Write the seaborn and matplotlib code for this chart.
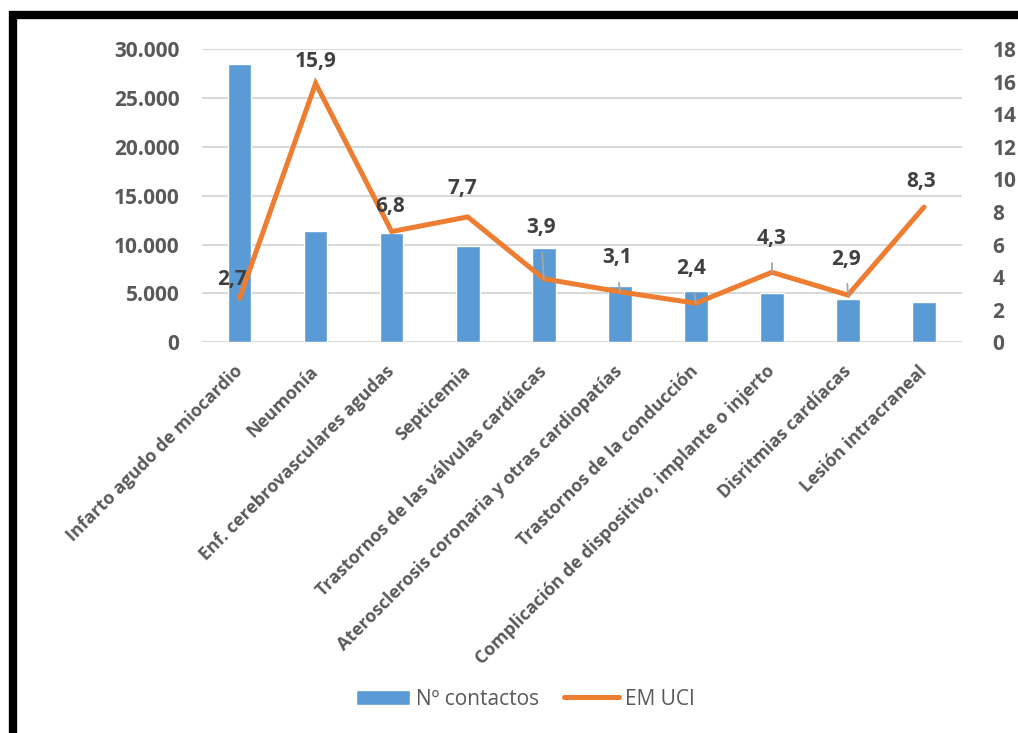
import numpy as np
import matplotlib
matplotlib.use("Agg")
import matplotlib.pyplot as plt
from matplotlib.patches import Rectangle
import seaborn as sns

# data
categorias = ["Infarto agudo de miocardio", "Neumonía", "Enf. cerebrovasculares agudas",
              "Septicemia", "Trastornos de las válvulas cardíacas",
              "Aterosclerosis coronaria y otras cardiopatías", "Trastornos de la conducción",
              "Complicación de dispositivo, implante o injerto", "Disritmias cardíacas",
              "Lesión intracraneal"]
contactos = [28500, 11400, 11200, 9900, 9700, 5800, 5200, 5000, 4400, 4100]
em_uci = [2.7, 15.9, 6.8, 7.7, 3.9, 3.1, 2.4, 4.3, 2.9, 8.3]
etiquetas = ["2,7", "15,9", "6,8", "7,7", "3,9", "3,1", "2,4", "4,3", "2,9", "8,3"]
yticks_izq = [0, 5000, 10000, 15000, 20000, 25000, 30000]
ytick_labels_izq = ["0", "5.000", "10.000", "15.000", "20.000", "25.000", "30.000"]
yticks_der = list(range(0, 19, 2))

# label offsets (pixels) and which ones get a leader line
offsets = [(-8, 19), (0, 22), (-2, 25), (-5, 28), (-3, 51), (-3, 34), (-5, 35), (0, 34), (-2, 36), (-3, 26)]
leader = [False, False, False, False, True, True, True, True, True, False]

azul = "#5B9BD5"
naranja = "#ED7D31"
gris = "#595959"
gris_osc = "#404040"

sns.set_style("white")
plt.rcParams["font.family"] = ["Open Sans", "DejaVu Sans"]

fig = plt.figure(figsize=(10.18, 7.33), dpi=100)
ax = fig.add_axes([0.198, 0.533, 0.747, 0.4])

sns.barplot(x=categorias, y=contactos, color=azul, saturation=1, width=0.31,
            ax=ax, label="Nº contactos", zorder=2)
ax.get_legend().remove()
ax.set_ylim(0, 30000)
ax.set_yticks(yticks_izq)
ax.set_yticklabels(ytick_labels_izq)
ax.set_xlim(-0.5, len(categorias) - 0.5)
ax.yaxis.grid(True, color="#D9D9D9", linewidth=1.5, zorder=0)
ax.set_axisbelow(True)
for s in ax.spines.values():
    s.set_visible(False)
ax.tick_params(axis="y", length=0, pad=16, labelsize=15, labelcolor=gris)
ax.tick_params(axis="x", length=0, pad=19, labelsize=12.8, labelcolor=gris)
for lab in ax.get_xticklabels():
    lab.set_rotation(45)
    lab.set_ha("right")
    lab.set_va("center")
    lab.set_rotation_mode("anchor")
    lab.set_fontweight("bold")
for lab in ax.get_yticklabels():
    lab.set_fontweight("bold")

ax2 = ax.twinx()
x = np.arange(len(categorias))
sns.lineplot(x=x, y=em_uci, color=naranja, linewidth=3.6, ax=ax2, label="EM UCI",
             solid_capstyle="round", solid_joinstyle="miter", zorder=3)
ax2.set_ylim(0, 18)
ax2.set_yticks(yticks_der)
for s in ax2.spines.values():
    s.set_visible(False)
ax2.tick_params(axis="y", length=0, pad=22, labelsize=15, labelcolor=gris)
for lab in ax2.get_yticklabels():
    lab.set_fontweight("bold")
ax2.set_xlim(-0.5, len(categorias) - 0.5)
ax2.get_legend().remove()

for xi, yi, txt, off, ld in zip(x, em_uci, etiquetas, offsets, leader):
    arrow = dict(arrowstyle="-", color="#A6A6A6", lw=1.3, shrinkA=8, shrinkB=0) if ld else None
    ax2.annotate(txt, xy=(xi, yi), xytext=off, textcoords="offset pixels",
                 ha="center", va="center", fontsize=15, fontweight="bold",
                 color=gris_osc, arrowprops=arrow, zorder=4)

h1, l1 = ax.get_legend_handles_labels()
h2, l2 = ax2.get_legend_handles_labels()
fig.legend(h1 + h2, l1 + l2, loc="center", bbox_to_anchor=(0.516, 0.046), ncol=2,
           frameon=False, fontsize=15, labelcolor=gris, handlelength=2.6,
           handleheight=0.75, columnspacing=1.2, handletextpad=0.3)

# black frame around the chart (cut at right and bottom)
fig.patches.append(Rectangle((0.0128, -0.2), 1.3, 0.979 + 0.2, transform=fig.transFigure,
                             fill=False, edgecolor="black", linewidth=6, zorder=10))

fig.savefig("out.png", dpi=100)
